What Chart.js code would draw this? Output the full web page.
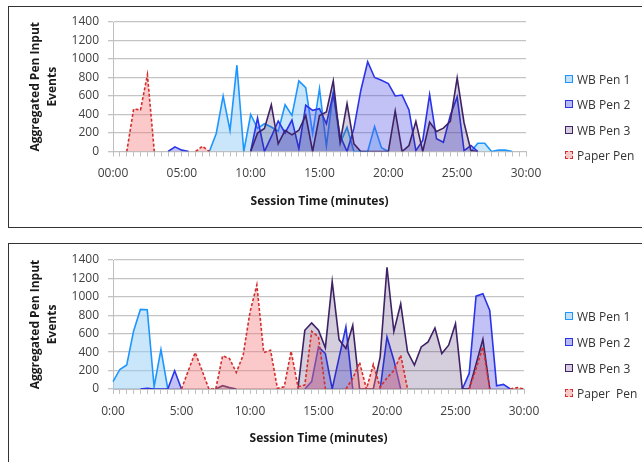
<!DOCTYPE html>
<html><head><meta charset="utf-8">
<script src="https://cdn.jsdelivr.net/npm/chart.js@4.4.1/dist/chart.umd.min.js"></script>
<style>
html,body{margin:0;padding:0;background:#fff;width:642px;height:462px;overflow:hidden;position:relative;font-family:'Open Sans',sans-serif;}
.box{position:absolute;left:8px;border:1px solid #333;width:700px;}
#box1{top:6px;height:220px;}
#box2{top:243px;height:300px;}
canvas{position:absolute;left:0;}
#c1{top:0px;}
#c2{top:238px;}
.leg{position:absolute;left:565px;height:16px;display:flex;align-items:center;font-size:12px;color:#333;white-space:pre;}
.leg .mk{width:8px;height:8px;box-sizing:border-box;border:1.5px solid;margin-right:4px;}
</style></head>
<body>
<div class="box" id="box1"></div>
<div class="box" id="box2"></div>
<canvas id="c1" width="642" height="230"></canvas>
<canvas id="c2" width="642" height="230"></canvas>

<div class="leg" style="top:71px"><span class="mk" style="border-color:#1E96FF;background:#C2E1F8"></span>WB Pen 1</div>
<div class="leg" style="top:96px"><span class="mk" style="border-color:#2B35E8;background:#B8B8F4"></span>WB Pen 2</div>
<div class="leg" style="top:122px"><span class="mk" style="border-color:#3F2266;background:#D6CEE0"></span>WB Pen 3</div>
<div class="leg" style="top:147px"><span class="mk" style="border-color:#D42D2D;border-style:dashed;background:#F8C8C8"></span>Paper Pen</div>

<div class="leg" style="top:308px"><span class="mk" style="border-color:#1E96FF;background:#C2E1F8"></span>WB Pen 1</div>
<div class="leg" style="top:334px"><span class="mk" style="border-color:#2B35E8;background:#B8B8F4"></span>WB Pen 2</div>
<div class="leg" style="top:360px"><span class="mk" style="border-color:#3F2266;background:#D6CEE0"></span>WB Pen 3</div>
<div class="leg" style="top:385px"><span class="mk" style="border-color:#D42D2D;border-style:dashed;background:#F8C8C8"></span>Paper  Pen</div>

<script>
const FONT = "'Open Sans', sans-serif";

// Categories: session time in minutes (30-second steps)
const minutes = [0,0.5,1,1.5,2,2.5,3,3.5,4,4.5,5,5.5,6,6.5,7,7.5,8,8.5,9,9.5,
  10,10.5,11,11.5,12,12.5,13,13.5,14,14.5,15,15.5,16,16.5,17,17.5,18,18.5,19,19.5,
  20,20.5,21,21.5,22,22.5,23,23.5,24,24.5,25,25.5,26,26.5,27,27.5,28,28.5,29,29.5,30];

const topTickLabels = ["00:00","05:00","10:00","15:00","20:00","25:00","30:00"];
const bottomTickLabels = ["0:00","5:00","10:00","15:00","20:00","25:00","30:00"];

const N = null;
// ---- Top chart ----
const topPen1 = [N,N,N,N,N,N,N,N,N,N,
  N,N,N,N,0,195,600,228,933,0,
  400,250,300,265,220,506,390,763,690,192,
  680,60,640,90,260,0,0,0,270,40,
  0,N,N,N,N,N,N,N,N,N,
  N,N,0,90,90,0,15,15,0,N,N];
const topPen2 = [N,N,N,N,N,N,N,N,0,50,
  15,0,N,N,N,N,N,N,N,N,
  0,362,0,160,330,200,340,30,500,445,
  463,300,625,170,0,250,660,970,800,770,
  735,600,610,450,10,120,615,137,100,390,
  590,10,65,0,N,N,N,N,N,N,N];
const topPen3 = [N,N,N,N,N,N,N,N,N,N,
  N,N,N,N,N,N,N,N,N,N,
  0,200,250,506,83,228,180,230,390,0,
  390,427,763,101,517,83,0,0,0,0,
  0,438,0,65,325,0,318,217,253,325,
  796,311,10,0,N,N,N,N,N,N,N];
const topPaper = [N,N,0,460,450,830,0,N,N,N,
  N,N,0,57,0,N,N,N,N,N,
  N,N,N,N,N,N,N,N,N,N,
  N,N,N,N,N,N,N,N,N,N,
  N,N,N,N,N,N,N,N,N,N,
  N,N,N,N,N,N,N,N,N,N,N];

// ---- Bottom chart ----
const bottomPen1 = [80,212,260,626,864,860,25,428,0,N,
  N,N,N,N,N,N,N,N,N,N,
  N,N,N,N,N,N,N,N,N,N,
  N,N,N,N,N,N,N,N,N,N,
  N,N,N,N,N,N,N,N,N,N,
  N,N,N,N,N,N,N,N,N,N,N];
const bottomPen2 = [N,N,N,N,0,8,0,0,0,198,
  0,N,N,N,N,N,N,N,N,N,
  N,N,N,N,N,N,N,N,0,80,
  457,385,0,340,673,0,N,N,N,0,
  565,313,0,N,N,N,N,N,N,N,
  N,0,169,1008,1033,853,36,50,0,N,N];
const bottomPen3 = [N,N,N,N,N,N,N,N,N,N,
  N,N,N,N,N,0,36,15,0,N,
  N,N,N,N,N,N,N,0,637,716,
  637,446,1166,536,439,691,0,0,0,349,
  1321,626,925,403,259,457,511,662,385,475,
  709,0,0,270,540,0,N,N,N,N,N];
const bottomPaper = [N,N,N,N,N,N,N,N,N,N,
  0,200,396,200,0,0,360,331,180,367,
  835,1130,396,421,7,25,410,25,43,626,
  565,0,N,N,0,115,288,0,266,20,
  120,200,367,0,N,N,N,N,N,N,
  N,N,0,220,457,0,N,N,0,15,0];

function makeChart(id, tickLabels, s, rightPad, padBottom) {
  const base = {fill:'origin', borderWidth:1.6, pointRadius:0, pointHoverRadius:0, tension:0, spanGaps:false};
  const ds = [
    {label:'WB Pen 1', data:s[0], borderColor:'#1E96FF', backgroundColor:'rgba(150,205,245,0.5)', order:4},
    {label:'WB Pen 2', data:s[1], borderColor:'#2B35E8', backgroundColor:'rgba(80,80,230,0.35)', order:3},
    {label:'WB Pen 3', data:s[2], borderColor:'#3F2266', backgroundColor:'rgba(60,30,100,0.22)', order:2},
    {label:'Paper Pen', data:s[3], borderColor:'#D42D2D', backgroundColor:'rgba(245,120,120,0.4)', borderDash:[3,2], order:1}
  ].map(d => Object.assign({}, base, d));
  return new Chart(document.getElementById(id), {
    type:'line',
    data:{labels:minutes, datasets:ds},
    options:{
      responsive:false, animation:false, devicePixelRatio:1,
      layout:{padding:{left:0, top:22, right:rightPad, bottom:padBottom}},
      plugins:{legend:{display:false}, tooltip:{enabled:false}},
      scales:{
        x:{
          type:'category', offset:false,
          grid:{display:true, drawOnChartArea:false, drawTicks:true, tickLength:5, color:'#bfbfbf', lineWidth:1},
          border:{display:true, color:'#bfbfbf', width:1},
          ticks:{autoSkip:false, maxRotation:0, minRotation:0, padding:10.3, color:'#404040',
            font:{family:FONT, size:12},
            callback:(v,i)=> (i%10===0 ? tickLabels[i/10] : '')},
          title:{display:true, text:'Session Time (minutes)', color:'#1a1a1a',
            font:{family:FONT, size:12, weight:'bold'}, padding:0},
          afterFit:(sc)=>{ sc.height = 57.2; }
        },
        y:{
          min:0, max:1400,
          ticks:{stepSize:200, padding:9, color:'#404040', font:{family:FONT, size:12},
            callback:(v)=> String(v)},
          grid:{color:'#c4c4c4', lineWidth:1.3, tickLength:5, drawTicks:true},
          border:{display:true, color:'#bfbfbf', width:1},
          title:{display:true, text:['Aggregated Pen Input','Events'], color:'#1a1a1a',
            font:{family:FONT, size:12, weight:'bold', lineHeight:1.38}, padding:{top:27.4, bottom:0}},
          afterFit:(sc)=>{ sc.width = 113; }
        }
      }
    }
  });
}

makeChart('c1', topTickLabels, [topPen1, topPen2, topPen3, topPaper], 116, 21.3);
makeChart('c2', bottomTickLabels, [bottomPen1, bottomPen2, bottomPen3, bottomPaper], 118, 21.8);
</script>
</body></html>
